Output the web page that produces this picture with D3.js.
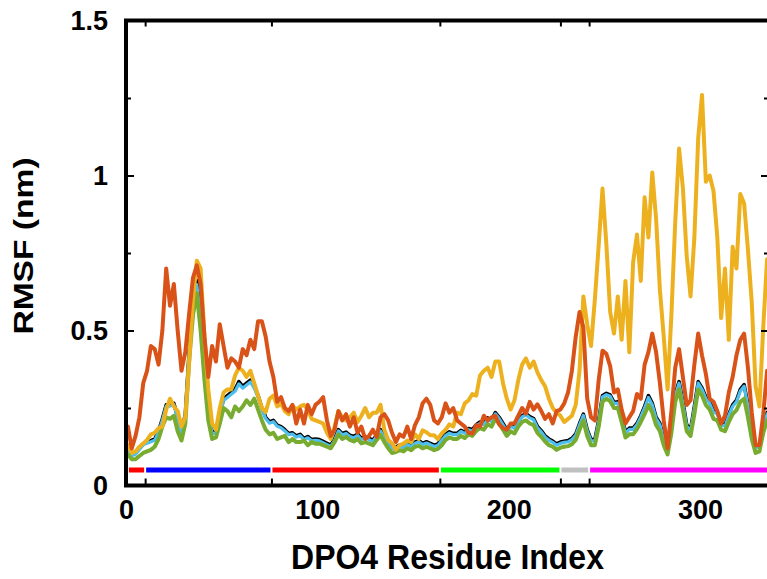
<!DOCTYPE html>
<html>
<head>
<meta charset="utf-8">
<script src="https://cdn.jsdelivr.net/npm/d3@7"></script>
<style>
  html, body { margin: 0; padding: 0; background: #fff; }
  svg { display: block; }
  text { font-family: "Liberation Sans", Arial, Helvetica, sans-serif; font-weight: bold; fill: #000; }
</style>
</head>
<body>
<script>
// ---------------- DATA ----------------
// residue index (every second residue)
const residues = d3.range(1, 336, 2);

const seriesBlack = [
  0.12, 0.10, 0.105, 0.12, 0.135, 0.14, 0.145, 0.15, 0.175, 0.215,
  0.26, 0.26, 0.265, 0.22, 0.17, 0.23, 0.43, 0.58, 0.66, 0.55,
  0.38, 0.24, 0.17, 0.175, 0.23, 0.28, 0.29, 0.30, 0.31, 0.335,
  0.32, 0.33, 0.34, 0.32, 0.29, 0.25, 0.22, 0.205, 0.21, 0.195,
  0.19, 0.18, 0.168, 0.17, 0.16, 0.165, 0.152, 0.158, 0.148, 0.15,
  0.148, 0.142, 0.136, 0.13, 0.15, 0.18, 0.168, 0.172, 0.162, 0.158,
  0.166, 0.152, 0.157, 0.152, 0.146, 0.163, 0.18, 0.158, 0.138, 0.122,
  0.124, 0.13, 0.126, 0.136, 0.13, 0.14, 0.145, 0.136, 0.141, 0.136,
  0.13, 0.134, 0.15, 0.165, 0.173, 0.168, 0.168, 0.178, 0.172, 0.184,
  0.18, 0.196, 0.205, 0.20, 0.218, 0.21, 0.235, 0.22, 0.20, 0.18,
  0.195, 0.188, 0.21, 0.225, 0.232, 0.222, 0.216, 0.19, 0.177, 0.16,
  0.15, 0.143, 0.134, 0.14, 0.143, 0.145, 0.152, 0.166, 0.20, 0.23,
  0.18, 0.148, 0.148, 0.21, 0.29, 0.297, 0.292, 0.268, 0.27, 0.225,
  0.172, 0.185, 0.185, 0.20, 0.225, 0.255, 0.29, 0.265, 0.22, 0.20,
  0.15, 0.118, 0.19, 0.295, 0.335, 0.27, 0.196, 0.18, 0.255, 0.335,
  0.315, 0.285, 0.27, 0.24, 0.235, 0.20, 0.195, 0.23, 0.26, 0.275,
  0.31, 0.325, 0.26, 0.175, 0.125, 0.13, 0.19, 0.235
];

const seriesBlue = [
  0.116, 0.096, 0.101, 0.116, 0.131, 0.136, 0.141, 0.146, 0.171, 0.211,
  0.256, 0.256, 0.261, 0.216, 0.166, 0.226, 0.424, 0.574, 0.648, 0.544,
  0.375, 0.236, 0.166, 0.171, 0.226, 0.274, 0.284, 0.294, 0.304, 0.328,
  0.314, 0.324, 0.334, 0.314, 0.285, 0.246, 0.216, 0.201, 0.206, 0.191,
  0.186, 0.176, 0.164, 0.166, 0.156, 0.161, 0.148, 0.154, 0.144, 0.146,
  0.144, 0.138, 0.132, 0.126, 0.146, 0.176, 0.164, 0.168, 0.158, 0.154,
  0.162, 0.148, 0.153, 0.148, 0.142, 0.159, 0.176, 0.154, 0.134, 0.118,
  0.12, 0.126, 0.122, 0.132, 0.126, 0.136, 0.141, 0.132, 0.137, 0.132,
  0.126, 0.13, 0.146, 0.161, 0.169, 0.164, 0.164, 0.174, 0.168, 0.18,
  0.176, 0.192, 0.201, 0.196, 0.214, 0.206, 0.231, 0.216, 0.196, 0.176,
  0.191, 0.184, 0.206, 0.221, 0.228, 0.218, 0.212, 0.186, 0.173, 0.156,
  0.146, 0.139, 0.13, 0.136, 0.139, 0.141, 0.148, 0.162, 0.196, 0.226,
  0.176, 0.144, 0.144, 0.206, 0.286, 0.293, 0.288, 0.264, 0.266, 0.221,
  0.168, 0.181, 0.181, 0.196, 0.221, 0.25, 0.284, 0.26, 0.216, 0.196,
  0.146, 0.114, 0.186, 0.29, 0.33, 0.265, 0.192, 0.176, 0.25, 0.33,
  0.31, 0.28, 0.265, 0.236, 0.231, 0.196, 0.191, 0.226, 0.255, 0.27,
  0.305, 0.32, 0.255, 0.171, 0.121, 0.126, 0.186, 0.231
];

const seriesGreen = [
  0.10, 0.085, 0.085, 0.095, 0.105, 0.11, 0.115, 0.125, 0.15, 0.19,
  0.22, 0.215, 0.225, 0.175, 0.145, 0.20, 0.40, 0.55, 0.62, 0.50,
  0.34, 0.21, 0.15, 0.155, 0.20, 0.25, 0.24, 0.22, 0.255, 0.24,
  0.255, 0.275, 0.26, 0.28, 0.245, 0.21, 0.18, 0.165, 0.17, 0.15,
  0.155, 0.16, 0.14, 0.15, 0.14, 0.14, 0.145, 0.13, 0.14, 0.135,
  0.135, 0.13, 0.125, 0.12, 0.14, 0.165, 0.15, 0.157, 0.147, 0.142,
  0.15, 0.136, 0.14, 0.135, 0.13, 0.147, 0.163, 0.14, 0.12, 0.105,
  0.108, 0.114, 0.11, 0.12, 0.114, 0.125, 0.128, 0.12, 0.125, 0.12,
  0.114, 0.118, 0.13, 0.147, 0.155, 0.15, 0.15, 0.16, 0.153, 0.165,
  0.16, 0.176, 0.185, 0.18, 0.198, 0.19, 0.215, 0.20, 0.18, 0.16,
  0.175, 0.168, 0.19, 0.205, 0.21, 0.20, 0.195, 0.17, 0.157, 0.142,
  0.13, 0.125, 0.115, 0.122, 0.125, 0.127, 0.133, 0.147, 0.18, 0.21,
  0.16, 0.13, 0.13, 0.19, 0.27, 0.28, 0.272, 0.25, 0.25, 0.205,
  0.155, 0.165, 0.165, 0.182, 0.205, 0.23, 0.26, 0.235, 0.195, 0.175,
  0.13, 0.10, 0.17, 0.27, 0.31, 0.245, 0.175, 0.16, 0.23, 0.31,
  0.29, 0.26, 0.245, 0.215, 0.21, 0.18, 0.175, 0.205, 0.23, 0.243,
  0.27, 0.28, 0.22, 0.15, 0.105, 0.11, 0.17, 0.21
];

const seriesYellow = [
  0.13, 0.105, 0.11, 0.125, 0.135, 0.147, 0.165, 0.17, 0.185, 0.19,
  0.245, 0.28, 0.255, 0.24, 0.19, 0.22, 0.40, 0.60, 0.725, 0.70,
  0.48, 0.31, 0.20, 0.18, 0.25, 0.30, 0.31, 0.31, 0.355, 0.38,
  0.37, 0.35, 0.37, 0.33, 0.29, 0.25, 0.237, 0.28, 0.29, 0.255,
  0.265, 0.24, 0.23, 0.257, 0.245, 0.255, 0.26, 0.245, 0.215, 0.21,
  0.205, 0.20, 0.17, 0.15, 0.19, 0.24, 0.22, 0.21, 0.22, 0.235,
  0.205, 0.225, 0.25, 0.22, 0.235, 0.235, 0.26, 0.18, 0.147, 0.136,
  0.115, 0.13, 0.135, 0.145, 0.14, 0.165, 0.15, 0.178, 0.172, 0.162,
  0.162, 0.15, 0.168, 0.18, 0.197, 0.19, 0.235, 0.23, 0.265, 0.275,
  0.295, 0.29, 0.355, 0.37, 0.38, 0.35, 0.40, 0.40, 0.33, 0.28,
  0.245, 0.275, 0.34, 0.39, 0.41, 0.38, 0.40, 0.365, 0.34, 0.32,
  0.28, 0.25, 0.235, 0.225, 0.205, 0.215, 0.225, 0.26, 0.37, 0.61,
  0.52, 0.45, 0.60, 0.775, 0.958, 0.78, 0.56, 0.49, 0.61, 0.47,
  0.66, 0.43, 0.72, 0.81, 0.66, 0.93, 0.80, 1.01, 0.86, 0.63,
  0.48, 0.31, 0.55, 0.85, 1.087, 0.96, 0.74, 0.61, 0.80, 1.12,
  1.26, 0.98, 1.00, 0.95, 0.80, 0.54, 0.70, 0.47, 0.77, 0.70,
  0.94, 0.91, 0.76, 0.59, 0.32, 0.255, 0.51, 0.73
];

const seriesOrange = [
  0.19, 0.12, 0.16, 0.22, 0.33, 0.37, 0.45, 0.44, 0.39, 0.50,
  0.70, 0.58, 0.65, 0.50, 0.37, 0.43, 0.555, 0.67, 0.71, 0.65,
  0.48, 0.35, 0.45, 0.40, 0.52, 0.45, 0.38, 0.41, 0.40, 0.38,
  0.44, 0.42, 0.47, 0.44, 0.53, 0.53, 0.48, 0.40, 0.35, 0.27,
  0.285, 0.25, 0.24, 0.26, 0.20, 0.245, 0.20, 0.26, 0.23, 0.26,
  0.27, 0.285, 0.21, 0.16, 0.18, 0.24, 0.21, 0.23, 0.19, 0.22,
  0.17, 0.19, 0.15, 0.16, 0.18, 0.157, 0.22, 0.23, 0.21, 0.17,
  0.14, 0.165, 0.157, 0.19, 0.15, 0.195, 0.22, 0.265, 0.28, 0.26,
  0.21, 0.20, 0.22, 0.265, 0.235, 0.25, 0.21, 0.20, 0.19, 0.17,
  0.168, 0.195, 0.19, 0.225, 0.21, 0.22, 0.225, 0.197, 0.185, 0.18,
  0.20, 0.20, 0.225, 0.25, 0.232, 0.27, 0.245, 0.262, 0.24, 0.215,
  0.23, 0.20, 0.24, 0.245, 0.265, 0.30, 0.37, 0.48, 0.56, 0.51,
  0.28, 0.22, 0.21, 0.34, 0.435, 0.425, 0.385, 0.30, 0.31, 0.245,
  0.20, 0.22, 0.24, 0.295, 0.28, 0.39, 0.43, 0.49, 0.43, 0.33,
  0.21, 0.12, 0.24, 0.38, 0.44, 0.35, 0.26, 0.275, 0.39, 0.49,
  0.42, 0.36, 0.28, 0.27, 0.24, 0.20, 0.225, 0.30, 0.35, 0.42,
  0.47, 0.49, 0.38, 0.235, 0.13, 0.13, 0.23, 0.37
];

// domain map (residue ranges) under the curves
const domainStart = [1, 10, 76, 164, 227, 242];
const domainEnd   = [10, 76, 164, 227, 242, 336];
const domainColor = ["#ff0000", "#0000ff", "#ff0000", "#00ff00", "#c0c0c0", "#ff00ff"];

const xTickValues = [0, 100, 200, 300];
const yMajorTicks = [0, 0.5, 1, 1.5];
const yMinorTicks = [0.25, 0.75, 1.25];
const yTickLabels = ["0", "0.5", "1", "1.5"];

// ---------------- CHART ----------------
const W = 767, H = 579;
const svg = d3.select("body").append("svg").attr("width", W).attr("height", H);
svg.append("rect").attr("width", W).attr("height", H).attr("fill", "#fff");

const x = d3.scaleLinear().domain([0, 336]).range([126, 769]);
const y = d3.scaleLinear().domain([0, 1.5]).range([485.5, 20.5]);

svg.append("clipPath").attr("id", "plotclip")
  .append("rect").attr("x", x(0) + 2).attr("y", y(1.5) + 2)
  .attr("width", x(336) - x(0) - 4).attr("height", y(0) - y(1.5) - 4);

const plot = svg.append("g").attr("clip-path", "url(#plotclip)");

// domain bars
const barY = y(0.05);
plot.selectAll("line.dom").data(domainStart).enter().append("line")
  .attr("class", "dom")
  .attr("x1", (d, i) => x(d) + 1)
  .attr("x2", (d, i) => x(domainEnd[i]) - 1)
  .attr("y1", barY).attr("y2", barY)
  .attr("stroke", (d, i) => domainColor[i])
  .attr("stroke-width", 5);

const line = d3.line().x((d, i) => x(residues[i])).y(d => y(d)).curve(d3.curveLinear);

const series = [
  { values: seriesBlack, color: "#000000", width: 3.6 },
  { values: seriesBlue, color: "#4dbeee", width: 3.2 },
  { values: seriesGreen, color: "#77ac30", width: 4 },
  { values: seriesYellow, color: "#edb120", width: 4 },
  { values: seriesOrange, color: "#d95319", width: 4 }
];

plot.selectAll("path.series").data(series).enter().append("path")
  .attr("class", "series")
  .attr("d", d => line(d.values))
  .attr("fill", "none")
  .attr("stroke", d => d.color)
  .attr("stroke-width", d => d.width)
  .attr("stroke-linejoin", "round")
  .attr("stroke-linecap", "round");

// axes ticks
function styleAxis(g) {
  g.select(".domain").remove();
  g.selectAll(".tick line").attr("stroke", "#000").attr("stroke-width", 2);
  g.selectAll(".tick text").style("font-size", "27px").style("font-weight", "bold")
    .style("font-family", '"Liberation Sans", Arial, sans-serif').attr("fill", "#000");
}

svg.append("g").attr("transform", `translate(${x(0)},0)`)
  .call(d3.axisLeft(y).tickValues(yMajorTicks).tickSize(-8).tickPadding(18)
    .tickFormat((d, i) => yTickLabels[i]))
  .call(styleAxis);
svg.append("g").attr("transform", `translate(${x(0)},0)`)
  .call(d3.axisLeft(y).tickValues(yMinorTicks).tickSize(-5).tickFormat(""))
  .call(styleAxis);
svg.append("g").attr("transform", `translate(${x(336)},0)`)
  .call(d3.axisRight(y).tickValues(yMajorTicks).tickSize(-8).tickFormat(""))
  .call(styleAxis);
svg.append("g").attr("transform", `translate(${x(336)},0)`)
  .call(d3.axisRight(y).tickValues(yMinorTicks).tickSize(-5).tickFormat(""))
  .call(styleAxis);

svg.append("g").attr("transform", `translate(0,${y(0)})`)
  .call(d3.axisBottom(x).tickValues(xTickValues).tickSize(0).tickPadding(14.5)
    .tickFormat(d3.format("d")))
  .call(styleAxis);
svg.append("g").attr("transform", `translate(0,${y(0)})`)
  .call(d3.axisBottom(x).tickValues(domainStart.slice(1)).tickSize(-7).tickFormat(""))
  .call(styleAxis);
svg.append("g").attr("transform", `translate(0,${y(1.5)})`)
  .call(d3.axisTop(x).tickValues(domainStart.slice(1)).tickSize(-6).tickFormat(""))
  .call(styleAxis);

// frame
svg.append("rect")
  .attr("x", x(0)).attr("y", y(1.5))
  .attr("width", x(336) - x(0)).attr("height", y(0) - y(1.5))
  .attr("fill", "none").attr("stroke", "#000").attr("stroke-width", 4);

// titles
svg.append("text")
  .attr("transform", `translate(${(x(0) + x(336)) / 2},569) scale(1,1.12)`)
  .attr("text-anchor", "middle")
  .style("font-size", "32px")
  .text("DPO4 Residue Index");

svg.append("text")
  .attr("transform", "translate(33,246) rotate(-90) scale(1.2,1)")
  .attr("text-anchor", "middle")
  .style("font-size", "28px")
  .text("RMSF (nm)");
</script>
</body>
</html>
